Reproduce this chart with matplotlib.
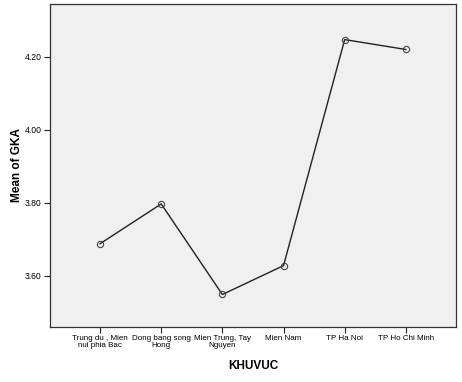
import matplotlib.pyplot as plt
from matplotlib.ticker import FormatStrFormatter

# Data
regions = ['Trung du , Mien\nnui phia Bac', 'Dong bang song\nHong', 'Mien Trung, Tay\nNguyen',
           'Mien Nam', 'TP Ha Noi', 'TP Ho Chi Minh']
mean_gka = [3.688, 3.797, 3.549, 3.628, 4.247, 4.220]
y_ticks = [3.60, 3.80, 4.00, 4.20]

plt.rcParams['font.family'] = ['Liberation Sans', 'DejaVu Sans']

fig = plt.figure(figsize=(4.62, 3.82), dpi=100)
ax = fig.add_axes([0.108, 0.144, 0.879, 0.846])
ax.set_facecolor('#f0f0f0')

x = range(len(regions))
ax.plot(x, mean_gka, color='#222222', linewidth=1.0, marker='o', markersize=4.5,
        markerfacecolor='none', markeredgecolor='#444444', markeredgewidth=0.8)

ax.set_xlim(-0.82, len(regions) - 1 + 0.82)
ax.set_ylim(3.46, 4.345)
ax.set_xticks(list(x))
ax.set_xticklabels(regions, fontsize=5.8, linespacing=0.9)
ax.set_yticks(y_ticks)
ax.yaxis.set_major_formatter(FormatStrFormatter('%.2f'))
ax.tick_params(axis='y', labelsize=6.2)
ax.tick_params(direction='out', length=4, width=0.8, color='#222222', pad=2)

for spine in ax.spines.values():
    spine.set_color('#333333')
    spine.set_linewidth(0.9)

ax.set_xlabel('KHUVUC', fontsize=8.5, fontweight='bold')
ax.set_ylabel('Mean of GKA', fontsize=8.5, fontweight='bold')
ax.xaxis.set_label_coords(0.5, -0.102)
ax.yaxis.set_label_coords(-0.066, 0.5)

fig.savefig('out.png', dpi=100)
